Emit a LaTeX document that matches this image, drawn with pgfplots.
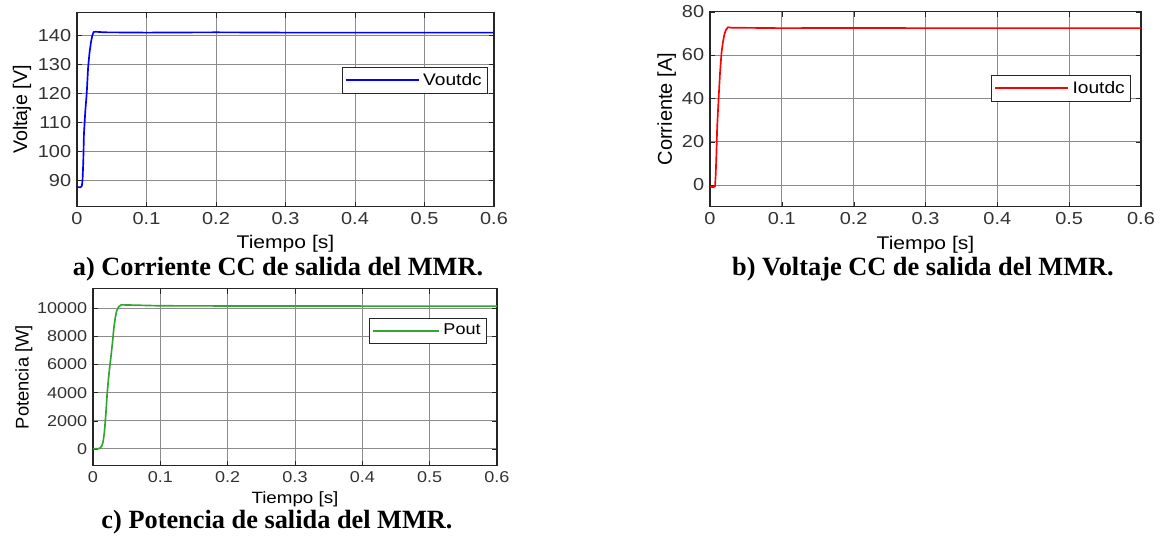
\documentclass[border=0pt]{standalone}
\usepackage{pgfplots}
\pgfplotsset{compat=1.18}
\usepackage{fontspec}
\setmainfont{Liberation Sans}
\newfontfamily\axfont[FakeStretch=1.15]{Liberation Sans}
\newfontfamily\capfont{Liberation Serif}
\definecolor{tickgray}{RGB}{50,50,50}
\definecolor{mgreen}{RGB}{50,165,50}
\pgfplotsset{
  mstyle/.style={
    scale only axis,
    anchor=south west,
    xmin=0, xmax=0.6,
    xtick={0,0.1,0.2,0.3,0.4,0.5,0.6},
    xticklabels={0,0.1,0.2,0.3,0.4,0.5,0.6},
    grid=major,
    major grid style={line width=0.5pt, black!45},
    axis line style={line width=0.7pt, black!85},
    tick style={black!85},
    major tick length=3pt,
    tick align=inside,
    xtick pos=both, ytick pos=both,
    ticklabel style={text=tickgray},
    label style={text=black!90},
    every axis x label/.style={at={(axis description cs:0.5,0)}, anchor=center},
    every axis y label/.style={at={(axis description cs:0,0.5)}, anchor=center, rotate=90},
    legend cell align=left,
    legend style={draw=black!85, line width=0.6pt, fill=white, inner sep=1.5pt},
    scaled ticks=false,
  },
}
\begin{document}
\begin{tikzpicture}
\path (0,0) rectangle (696.6pt,324pt);
% ---------- a ----------
\begin{axis}[mstyle,
  at={(46.2pt,202.8pt)}, width=250.2pt, height=116.4pt,
  ymin=80.8, ymax=147.9,
  ytick={90,100,110,120,130,140},
  yticklabels={90,100,110,120,130,140},
  ticklabel style={font=\axfont\fontsize{10.4pt}{11pt}\selectfont},
  xlabel={\axfont\fontsize{11pt}{12pt}\selectfont Tiempo [s]},
  ylabel={\fontsize{11.8pt}{12pt}\selectfont Voltaje [V]},
  xlabel style={yshift=-22.2pt},
  ylabel style={yshift=33pt},
  legend style={at={(0.986,0.722)}, anchor=north east, font=\axfont\fontsize{10pt}{11pt}\selectfont, nodes={inner sep=2pt}},
  legend image code/.code={\draw[#1] (0pt,0pt) -- (44pt,0pt);},
]
\addplot[blue, line width=1pt] coordinates {
(0,87.6) (0.005,87.5) (0.007,88) (0.008,90) (0.009,96) (0.010,106)
(0.012,114) (0.014,120) (0.016,129) (0.018,134) (0.020,137.5) (0.022,140)
(0.024,141.2) (0.026,141.3) (0.04,141.1) (0.1,141.0) (0.2,141.1)
(0.3,141.0) (0.4,141.0) (0.5,141.0) (0.6,141.0)};
\addlegendentry{Voutdc}
\end{axis}
% ---------- b ----------
\begin{axis}[mstyle,
  at={(426pt,202.8pt)}, width=258.6pt, height=117pt,
  ymin=-10, ymax=80,
  ytick={0,20,40,60,80},
  yticklabels={0,20,40,60,80},
  ticklabel style={font=\axfont\fontsize{10.4pt}{11pt}\selectfont},
  xlabel={\axfont\fontsize{11pt}{12pt}\selectfont Tiempo [s]},
  ylabel={\fontsize{12pt}{12pt}\selectfont Corriente [A]},
  xlabel style={yshift=-22.8pt},
  ylabel style={yshift=26pt},
  legend style={at={(0.977,0.677)}, anchor=north east, font=\axfont\fontsize{10pt}{11pt}\selectfont, nodes={inner sep=2pt}},
  legend image code/.code={\draw[#1] (0pt,0pt) -- (44pt,0pt);},
]
\addplot[red, line width=1pt] coordinates {
(0,-0.8) (0.005,-1) (0.007,-0.5) (0.008,5) (0.009,15) (0.010,27)
(0.012,40) (0.014,52) (0.016,61) (0.018,66) (0.020,69.5) (0.022,71.5)
(0.025,72.8) (0.03,72.6) (0.1,72.4) (0.2,72.5) (0.3,72.4) (0.4,72.4)
(0.5,72.4) (0.6,72.4)};
\addlegendentry{Ioutdc}
\end{axis}
% ---------- c ----------
\begin{axis}[mstyle,
  at={(55.8pt,47.4pt)}, width=242.4pt, height=106.2pt,
  ymin=-1200, ymax=11400,
  ytick={0,2000,4000,6000,8000,10000},
  yticklabels={0,2000,4000,6000,8000,10000},
  ticklabel style={font=\axfont\fontsize{9.4pt}{10pt}\selectfont},
  xlabel={\axfont\fontsize{9.8pt}{11pt}\selectfont Tiempo [s]},
  ylabel={\fontsize{11pt}{12pt}\selectfont Potencia [W]},
  xlabel style={yshift=-20.4pt},
  ylabel style={yshift=41.4pt},
  legend style={at={(0.975,0.836)}, anchor=north east, font=\axfont\fontsize{9.4pt}{10pt}\selectfont, nodes={inner sep=2pt}},
  legend image code/.code={\draw[#1] (0pt,0pt) -- (40pt,0pt);},
]
\addplot[mgreen, line width=1pt] coordinates {
(0,0) (0.005,0) (0.01,30) (0.013,200) (0.015,500) (0.017,1200)
(0.019,2400) (0.021,3900) (0.023,5000) (0.025,5900) (0.027,6700)
(0.029,7600) (0.031,8600) (0.033,9300) (0.035,9800) (0.038,10100)
(0.042,10250) (0.05,10240) (0.1,10180) (0.2,10170) (0.3,10170)
(0.4,10160) (0.5,10160) (0.6,10160)};
\addlegendentry{Pout}
\end{axis}
% ---------- captions ----------
\node[font=\capfont\bfseries\fontsize{15.8pt}{17pt}\selectfont] at (166.8pt,165pt) {a) Corriente CC de salida del MMR.};
\node[font=\capfont\bfseries\fontsize{15.8pt}{17pt}\selectfont] at (553.8pt,165pt) {b) Voltaje CC de salida del MMR.};
\node[font=\capfont\bfseries\fontsize{15.8pt}{17pt}\selectfont] at (166.2pt,13.2pt) {c) Potencia de salida del MMR.};
\end{tikzpicture}
\end{document}
